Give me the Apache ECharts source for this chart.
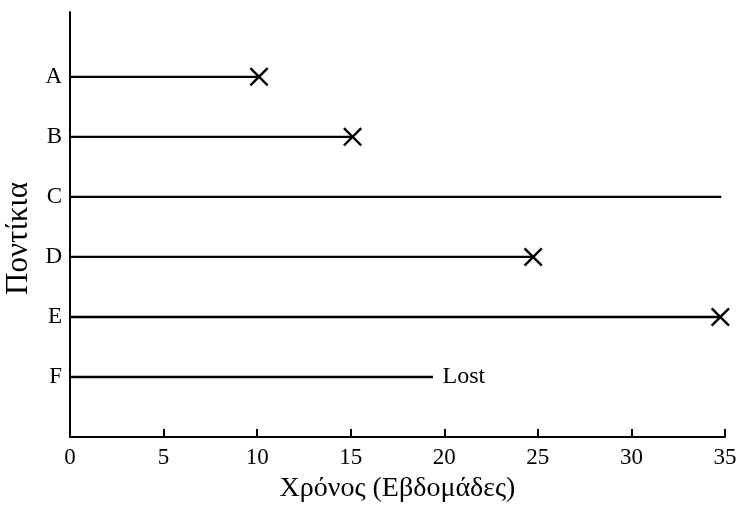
<!DOCTYPE html>
<html>
<head>
<meta charset="utf-8">
<script src="https://cdn.jsdelivr.net/npm/echarts@6/dist/echarts.min.js"></script>
<style>html,body{margin:0;padding:0;background:#fff}#c{width:742px;height:510px}</style>
</head>
<body>
<div id="c"></div>
<script>
var categories = ['A', 'B', 'C', 'D', 'E', 'F'];
var durations = [10.1, 15.1, 34.8, 24.75, 34.75, 19.4];
var outcomes = ['event', 'event', 'censored', 'event', 'event', 'lost'];
var xTicks = [0, 5, 10, 15, 20, 25, 30, 35];
var xTitle = 'Χρόνος (Εβδομάδες)';
var yTitle = 'Ποντίκια';
var lostText = 'Lost';

var font = 'Liberation Serif';
var n = categories.length;
function yPos(i) { return n - i; }

var series = [];
categories.forEach(function (c, i) {
  series.push({
    type: 'line', name: c, symbol: 'none', silent: true,
    lineStyle: { color: '#000', width: 2.4 },
    data: [[0, yPos(i)], [durations[i], yPos(i)]]
  });
});
var crossData = [], lostData = [];
categories.forEach(function (c, i) {
  if (outcomes[i] === 'event') crossData.push([durations[i], yPos(i)]);
  if (outcomes[i] === 'lost') lostData.push([durations[i], yPos(i)]);
});
series.push({
  type: 'scatter', silent: true,
  symbol: 'path://M0.9,0L5,4.1L9.1,0L10,0.9L5.9,5L10,9.1L9.1,10L5,5.9L0.9,10L0,9.1L4.1,5L0,0.9Z',
  symbolSize: 19,
  itemStyle: { color: '#000', opacity: 1 },
  data: crossData
});
series.push({
  type: 'scatter', silent: true, symbolSize: 1,
  itemStyle: { color: 'rgba(255,255,255,0)', opacity: 1 },
  label: { show: true, position: 'right', distance: 9, formatter: lostText,
           fontFamily: font, fontSize: 24, color: '#000', opacity: 1 },
  data: lostData
});

var chart = echarts.init(document.getElementById('c'));
chart.setOption({
  animation: false,
  grid: { left: 70, right: 17, top: 12, bottom: 73, containLabel: false, outerBoundsMode: 'none' },
  xAxis: {
    type: 'value', min: xTicks[0], max: xTicks[xTicks.length - 1], interval: 5,
    splitLine: { show: false },
    axisLine: { lineStyle: { color: '#000', width: 2 } },
    axisTick: { inside: true, length: 8, lineStyle: { color: '#000', width: 2 } },
    axisLabel: { color: '#000', fontFamily: font, fontSize: 23, margin: 9 },
    name: xTitle, nameLocation: 'middle', nameGap: 38,
    nameTextStyle: { color: '#000', fontFamily: font, fontSize: 28 }
  },
  yAxis: {
    type: 'value', min: 0, max: 7.08, interval: 1,
    splitLine: { show: false },
    axisLine: { show: true, lineStyle: { color: '#000', width: 2 } },
    axisTick: { show: false },
    axisLabel: {
      color: '#000', fontFamily: font, fontSize: 23, margin: 8,
      showMaxLabel: false,
      formatter: function (v) {
        var idx = n - v;
        return (v >= 1 && v <= n) ? categories[idx] : '';
      }
    },
    name: yTitle, nameLocation: 'middle', nameGap: 31, nameRotate: 90,
    nameTextStyle: { color: '#000', fontFamily: font, fontSize: 31, padding: [0, 28, 0, 0] }
  },
  series: series
});
</script>
</body>
</html>
